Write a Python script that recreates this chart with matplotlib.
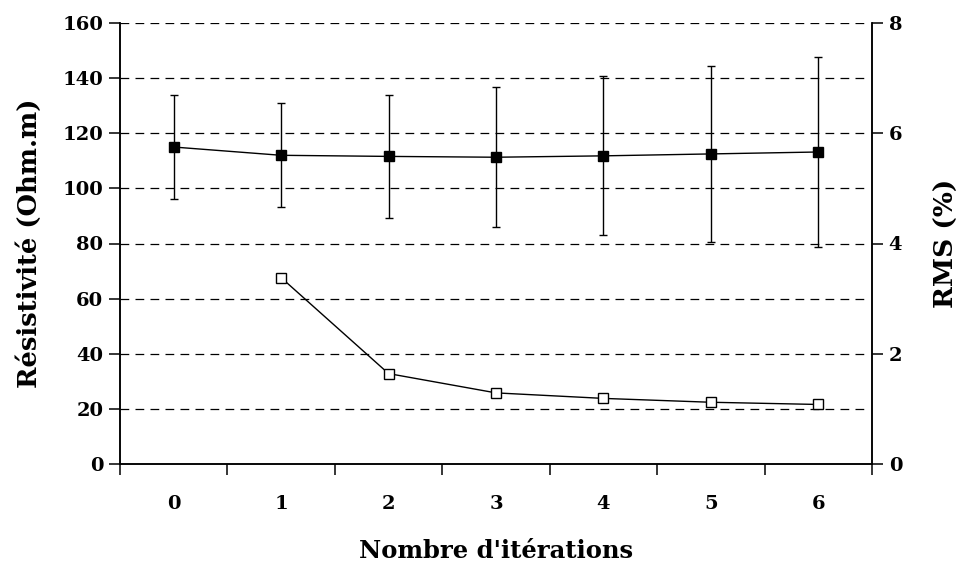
import matplotlib
matplotlib.use("Agg")
import matplotlib.pyplot as plt
import numpy as np

iterations = [0, 1, 2, 3, 4, 5, 6]
resistivity = [115.0, 112.0, 111.6, 111.3, 111.8, 112.5, 113.2]
resistivity_err = [19.0, 18.8, 22.4, 25.3, 28.8, 31.8, 34.4]
rms_iter = [1, 2, 3, 4, 5, 6]
rms = [3.38, 1.64, 1.29, 1.19, 1.12, 1.08]

plt.rcParams['font.family'] = ['DejaVu Serif']
plt.rcParams['font.weight'] = 'bold'

fig = plt.figure(figsize=(9.63, 5.64), dpi=100)
ax = fig.add_axes([120/963, 1-464/564, (872-120)/963, (464-23)/564])
ax2 = ax.twinx()

# grid
for v in range(20, 161, 20):
    ax.axhline(v, xmin=0, xmax=0.99, color='black', lw=0.9, ls=(0, (7, 5)), zorder=0)

ax.errorbar(iterations, resistivity, yerr=resistivity_err, color='black', lw=1.0,
            marker='s', ms=7.5, mfc='black', mec='black', capsize=3, elinewidth=1.0,
            capthick=1.0, zorder=3)
ax2.plot(rms_iter, rms, color='black', lw=1.0, marker='s', ms=7.5, mfc='white',
         mec='black', mew=1.0, zorder=3)

ax.set_xlim(-0.5, 6.5)
ax.set_ylim(0, 160)
ax2.set_ylim(0, 8)
ax.set_yticks(range(0, 161, 20))
ax2.set_yticks([0, 2, 4, 6, 8])

ax.set_xticks(np.arange(-0.5, 6.6, 1.0))
ax.set_xticklabels([])
ax.set_xticks(iterations, minor=True)
ax.set_xticklabels([str(i) for i in iterations], minor=True)
ax.tick_params(axis='x', which='major', direction='out', length=8, width=1.1)
ax.tick_params(axis='x', which='minor', length=0, pad=22, labelsize=14)
ax.tick_params(axis='y', direction='out', length=8, width=1.1, labelsize=14, pad=4)
ax2.tick_params(axis='y', direction='out', length=8, width=1.1, labelsize=14, pad=4)

for a in (ax, ax2):
    a.spines['top'].set_visible(False)
    for s in ('left', 'right', 'bottom'):
        a.spines[s].set_linewidth(1.1)

ax.set_xlabel("Nombre d'itérations", fontsize=17.5, fontweight='bold', labelpad=19)
ax.set_ylabel("Résistivité (Ohm.m)", fontsize=18.5, fontweight='bold', labelpad=15)
ax2.set_ylabel("RMS (%)", fontsize=19, fontweight='bold', labelpad=23)

fig.savefig("out.png", dpi=100)
